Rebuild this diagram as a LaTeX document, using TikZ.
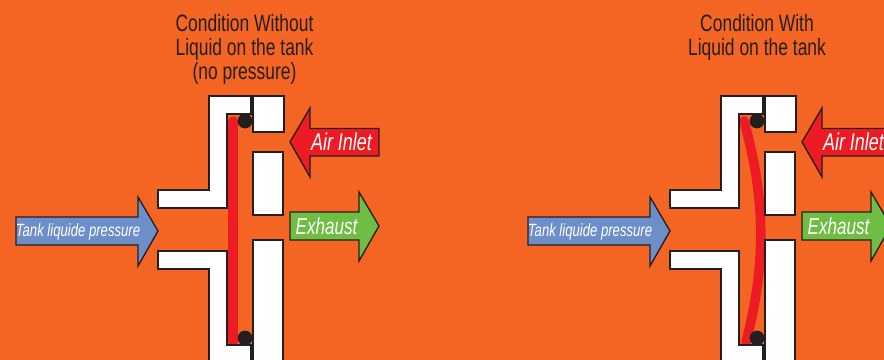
\documentclass[tikz,border=0pt]{standalone}
\usepackage{fontspec}
\usepackage{tikz}
\newfontfamily\labelfont[FakeStretch=0.74]{Liberation Sans}
\definecolor{tankbg}{HTML}{F46523}
\definecolor{inkblack}{HTML}{231F20}
\definecolor{airred}{HTML}{ED1C24}
\definecolor{tankblue}{HTML}{6D8EC8}
\definecolor{exhaustgreen}{HTML}{6FBE44}

\begin{document}
\begin{tikzpicture}[
  x=0.75pt, y=-0.75pt,
  every node/.style={align=center, inner sep=0pt},
  title/.style={font=\labelfont\fontsize{17.7}{18}\selectfont, text=inkblack},
  wall/.style={draw=inkblack, fill=white, line width=1.5pt, line join=miter},
  arrowbox/.style={draw=inkblack, line width=1pt, line join=miter},
  arrowtext/.style={font=\labelfont\itshape\fontsize{#1}{16}\selectfont, text=white},
  membrane/.style={draw=airred, line width=7.2pt, line cap=round},
  seal/.style={fill=inkblack},
  pics/valve/.style={code={
    % walls
    \draw[wall] (209,96) -- (251,96) -- (251,114) -- (227,114) -- (227,208) -- (158,208) -- (158,190) -- (209,190) -- cycle;
    \draw[wall] (158,251) -- (227,251) -- (227,345) -- (251,345) -- (251,375) -- (209,375) -- (209,269) -- (158,269) -- cycle;
    \draw[wall] (252.5,96) rectangle (284,132);
    \draw[wall] (252.5,152) rectangle (283,215);
    \draw[wall] (252.5,240) rectangle (283,375);
    % o-rings
    \fill[seal] (245,121) circle (7.4);
    \fill[seal] (245,338) circle (7.4);
    % arrows
    \draw[arrowbox, fill=airred] (290,142) -- (310,108) -- (310,128.5) -- (379,128.5) -- (379,156) -- (310,156) -- (310,177) -- cycle;
    \draw[arrowbox, fill=exhaustgreen] (290,212) -- (359,212) -- (359,192) -- (379,226) -- (359,261) -- (359,240) -- (290,240) -- cycle;
    \draw[arrowbox, fill=tankblue] (16,217) -- (138,217) -- (138,197) -- (158,231) -- (138,266) -- (138,245) -- (16,245) -- cycle;
    \node[arrowtext=18.2] (air) at (341.5,142) {Air Inlet};
    \node[arrowtext=17.3] (exh) at (326.5,226) {Exhaust};
    \node[arrowtext=13.3] (tank) at (78,231.5) {Tank liquide pressure};
  }}
]
\clip (0,0) rectangle (884,360);
\fill[tankbg] (0,0) rectangle (884,360);

% left: no pressure
\node[title] (titleL) at (244.5,49.5) {Condition Without\\Liquid on the tank\\(no pressure)};
\draw[membrane] (233,121) -- (233,342);
\pic (L) {valve};

% right: diaphragm pushed over
\node[title] (titleR) at (757,37) {Condition With\\Liquid on the tank};
\draw[membrane] (744,121) .. controls (766,200) and (766,265) .. (746,342);
\pic (R) [xshift=384pt] {valve};
\end{tikzpicture}
\end{document}
